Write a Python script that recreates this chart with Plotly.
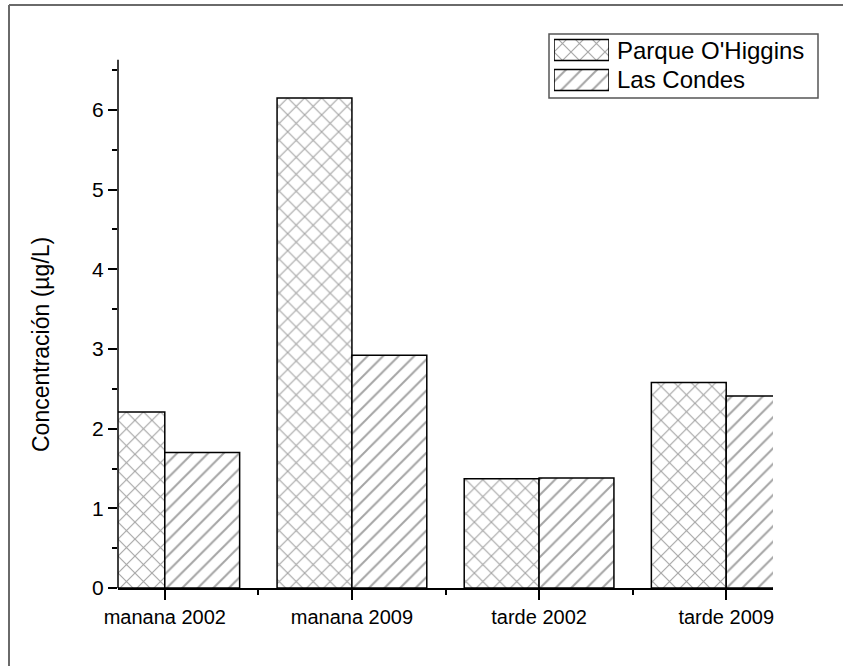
import plotly.graph_objects as go

# Categories and concentrations (µg/L)
categories = ["manana 2002", "manana 2009", "tarde 2002", "tarde 2009"]
parque_ohiggins = [2.21, 6.15, 1.37, 2.58]
las_condes = [1.70, 2.92, 1.38, 2.41]
series_names = ["Parque O'Higgins", "Las Condes"]
y_ticks = [0, 1, 2, 3, 4, 5, 6]
y_minor = [0.5, 1.5, 2.5, 3.5, 4.5, 5.5, 6.5]
y_axis_top = 6.63
y_title = "Concentración (µg/L)"

W, H = 843, 666
L, R, T, B = 118, 70, 30, 78
PW, PH = W - L - R, H - T - B

FONT = "Liberation Sans, Arial, sans-serif"
HATCH = "#4a4a4a"
patterns = [dict(shape="x", size=12, solidity=0.18, fgcolor=HATCH, bgcolor="white"),
            dict(shape="/", size=11, solidity=0.18, fgcolor=HATCH, bgcolor="white")]


def px_x(p):
    return (p - L) / PW


def px_y(p):
    return (H - B - p) / PH


x_pos = list(range(1, len(categories) + 1))

fig = go.Figure()
for vals, name, off, pat in [(parque_ohiggins, series_names[0], -0.4, patterns[0]),
                             (las_condes, series_names[1], 0.0, patterns[1])]:
    fig.add_trace(go.Bar(
        x=x_pos, y=vals, name=name, offset=off, width=0.4, showlegend=False,
        marker=dict(color="white", line=dict(color="black", width=1.5), pattern=pat),
    ))

# Legend swatches on a small inset axis
for i, name in enumerate(series_names):
    fig.add_trace(go.Bar(
        x=[1], y=[i], base=0, orientation="h", width=0.7, showlegend=False,
        xaxis="x2", yaxis="y2", hoverinfo="skip",
        marker=dict(color="white", line=dict(color="black", width=1.5), pattern=patterns[i]),
    ))
    fig.add_annotation(
        text=name, xref="paper", yref="paper", x=px_x(615), y=px_y(50 + 30 * i),
        xanchor="left", yanchor="middle", showarrow=False,
        font=dict(family=FONT, size=24, color="black"),
    )

# Y axis title
fig.add_annotation(
    text=y_title, xref="paper", yref="paper", x=px_x(41), y=px_y(345),
    xanchor="center", yanchor="middle", textangle=-90, showarrow=False,
    font=dict(family=FONT, size=23, color="black"),
)

fig.update_layout(
    width=W, height=H,
    margin=dict(l=L, r=R, t=T, b=B, pad=0),
    paper_bgcolor="white", plot_bgcolor="rgba(0,0,0,0)",
    font=dict(family=FONT, color="black"),
    barmode="overlay",
    showlegend=False,
    xaxis=dict(
        range=[0.75, 4.25], tickmode="array", tickvals=x_pos, ticktext=categories,
        showgrid=False, zeroline=False, showline=True, linecolor="black", linewidth=1.5,
        ticks="outside", ticklen=10, tickwidth=1.5, tickcolor="black",
        tickfont=dict(size=20),
        minor=dict(tickmode="array", tickvals=[1.5, 2.5, 3.5], ticks="outside",
                   ticklen=5, tickwidth=1.5, tickcolor="black"),
    ),
    yaxis=dict(
        range=[0, (H - B - T) / 79.67], tickmode="array", tickvals=y_ticks,
        showgrid=False, zeroline=False, showline=False,
        ticks="outside", ticklen=9, tickwidth=1.5, tickcolor="black",
        tickfont=dict(size=21),
        minor=dict(tickmode="array", tickvals=y_minor, ticks="outside", ticklen=5,
                   tickwidth=1.5, tickcolor="black"),
    ),
    xaxis2=dict(domain=[px_x(554), px_x(609)], range=[0, 1], anchor="y2",
                visible=False, fixedrange=True),
    yaxis2=dict(domain=[px_y(95), px_y(35)], range=[1.5, -0.5], anchor="x2",
                visible=False, fixedrange=True),
)

# Y axis line, stopping just above the last minor tick
fig.add_shape(type="line", xref="paper", yref="y", x0=0, x1=0, y0=0, y1=y_axis_top,
              line=dict(color="black", width=1.5))

# Legend frame
fig.add_shape(type="rect", xref="paper", yref="paper",
              x0=px_x(549), x1=px_x(818), y0=px_y(98), y1=px_y(34),
              line=dict(color="#555555", width=1.5), fillcolor="rgba(0,0,0,0)", layer="below")

# Page frame lines along the top and left edges
fig.add_shape(type="line", xref="paper", yref="paper",
              x0=px_x(9), x1=px_x(W), y0=px_y(5), y1=px_y(5),
              line=dict(color="#6a6a6a", width=2))
fig.add_shape(type="line", xref="paper", yref="paper",
              x0=px_x(9), x1=px_x(9), y0=px_y(5), y1=px_y(H),
              line=dict(color="#6a6a6a", width=2))

fig.write_html("out.html")
